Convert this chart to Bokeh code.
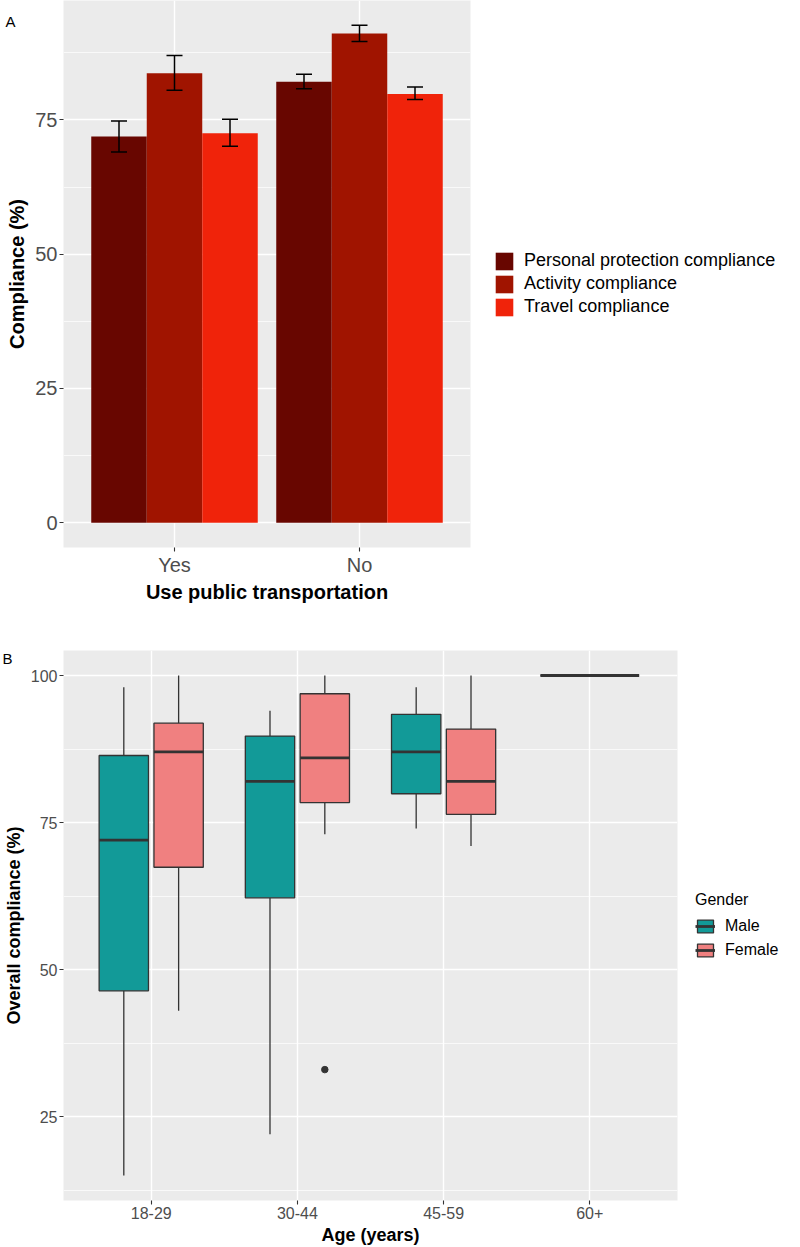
from bokeh.plotting import figure
from bokeh.layouts import column
from bokeh.models import (FactorRange, Range1d, FixedTicker, Legend, LegendItem, Whisker,
                          TeeHead, ColumnDataSource, CDSView, GroupFilter, Label)
from bokeh.transform import dodge
from bokeh.embed import file_html
from bokeh.resources import INLINE

# ---------------- Panel A data ----------------
transport = ["Yes", "No"]
measures = ["Personal protection compliance", "Activity compliance", "Travel compliance"]
personal = [71.9, 82.1]
personal_lo = [69.0, 80.8]
personal_hi = [74.8, 83.5]
activity = [83.7, 91.1]
activity_lo = [80.5, 89.6]
activity_hi = [87.0, 92.6]
travel = [72.5, 79.8]
travel_lo = [70.1, 78.8]
travel_hi = [75.1, 81.1]
bar_colors = ["#680600", "#a01400", "#f0230a"]

# ---------------- Panel B data ----------------
ages = ["18-29", "30-44", "45-59", "60+"]
genders = ["Male", "Female"]
box_age = ["18-29", "18-29", "30-44", "30-44", "45-59", "45-59", "60+"]
box_gender = ["Male", "Female", "Male", "Female", "Male", "Female", "Male"]
box_low = [15, 43, 22, 73, 74, 71, 100]
box_q1 = [46.4, 67.4, 62.2, 78.4, 79.9, 76.4, 100]
box_med = [72, 87, 82, 86, 87, 82, 100]
box_q3 = [86.4, 91.9, 89.7, 96.9, 93.4, 90.9, 100]
box_high = [98, 100, 94, 100, 98, 100, 100]
out_age = ["30-44"]
out_gender = ["Female"]
out_value = [33]
gender_colors = {"Male": "#129a98", "Female": "#f08080"}

FONT = "Liberation Sans"
TICK_COL = "#4d4d4d"
PANEL_BG = "#ebebeb"

A_FW, A_FH = 407, 547
A_BOTTOM = 72
B_FW, B_FH = 614, 550


def style_axes(p, tick_size, title_size):
    for ax in (p.xaxis[0], p.yaxis[0]):
        ax.axis_line_color = None
        ax.major_tick_line_color = "#333333"
        ax.major_tick_line_width = 1.1
        ax.major_tick_out = 4
        ax.major_tick_in = 0
        ax.minor_tick_line_color = None
        ax.major_label_text_font = FONT
        ax.major_label_text_font_size = tick_size
        ax.major_label_text_color = TICK_COL
        ax.major_label_standoff = 2
        ax.axis_label_text_font = FONT
        ax.axis_label_text_font_size = title_size
        ax.axis_label_text_font_style = "bold"
        ax.axis_label_text_color = "black"
        ax.axis_label_standoff = 4
    p.xgrid.grid_line_color = "white"
    p.xgrid.grid_line_width = 1.4
    p.ygrid.grid_line_color = "white"
    p.ygrid.grid_line_width = 1.4
    p.ygrid.minor_grid_line_color = "white"
    p.ygrid.minor_grid_line_width = 0.7


def panel_tag(letter, x, y):
    return Label(text=letter, x=x, y=y, x_units="screen", y_units="screen",
                 text_baseline="top", text_align="left", text_font=FONT,
                 text_font_size="15px", text_color="black")


# ================= Panel A =================
pA = figure(x_range=FactorRange(*transport, range_padding=0.1, range_padding_units="absolute"),
            y_range=Range1d(-4.63, 97.23),
            frame_width=A_FW, frame_height=A_FH,
            min_border_left=60, min_border_right=40, min_border_top=0, min_border_bottom=A_BOTTOM,
            output_backend="svg", toolbar_location=None,
            background_fill_color=PANEL_BG, border_fill_color="white", outline_line_color=None)

srcA = ColumnDataSource(dict(cat=transport,
                             personal=personal, personal_lo=personal_lo, personal_hi=personal_hi,
                             activity=activity, activity_lo=activity_lo, activity_hi=activity_hi,
                             travel=travel, travel_lo=travel_lo, travel_hi=travel_hi))
keys = ["personal", "activity", "travel"]
offsets = [-0.3, 0.0, 0.3]
itemsA = []
for key, off, col, lab in zip(keys, offsets, bar_colors, measures):
    r = pA.vbar(x=dodge("cat", off, range=pA.x_range), top=key, width=0.3, source=srcA,
                fill_color=col, line_color=None)
    itemsA.append(LegendItem(label=lab, renderers=[r]))
for key, off in zip(keys, offsets):
    w = Whisker(source=srcA, base=dodge("cat", off, range=pA.x_range),
                upper=key + "_hi", lower=key + "_lo", line_color="black", line_width=1.5,
                level="overlay",
                upper_head=TeeHead(size=16, line_color="black", line_width=1.5),
                lower_head=TeeHead(size=16, line_color="black", line_width=1.5))
    pA.add_layout(w)

pA.yaxis.ticker = FixedTicker(ticks=[0, 25, 50, 75], minor_ticks=[12.5, 37.5, 62.5, 87.5])
pA.xaxis.axis_label = "Use public transportation"
pA.yaxis.axis_label = "Compliance (%)"
style_axes(pA, "20px", "20px")
pA.xaxis.axis_label_standoff = 2

legA = Legend(items=itemsA, location="center_left", margin=23, padding=0, spacing=1,
              glyph_width=22, glyph_height=22, label_height=22, label_standoff=9,
              label_text_font=FONT, label_text_font_size="18px", label_text_color="black",
              title=" ", title_text_font_size="14px", title_standoff=4,
              border_line_color=None, background_fill_color=None)
pA.add_layout(legA, "right")
# tag sits in the (roomy) bottom border panel, positioned up to the frame's top-left
pA.add_layout(panel_tag("A", -58, A_FH + A_BOTTOM - 9), "below")

# ================= Panel B =================
pB = figure(x_range=FactorRange(*ages, range_padding=0.1, range_padding_units="absolute"),
            y_range=Range1d(10.75, 104.25),
            frame_width=B_FW, frame_height=B_FH,
            min_border_left=63, min_border_right=40, min_border_top=28, min_border_bottom=48,
            output_backend="svg", toolbar_location=None,
            background_fill_color=PANEL_BG, border_fill_color="white", outline_line_color=None)

# dodge positions from group sizes (ggplot position_dodge2, width 0.75, padding 0.1)
box_off, box_w = [], []
for i, a in enumerate(box_age):
    members = [j for j, b in enumerate(box_age) if b == a]
    n = len(members)
    k = members.index(i)
    slot = 0.75 / n
    box_off.append(-0.375 + slot * (k + 0.5))
    box_w.append(slot * 0.9)

srcB = ColumnDataSource(dict(
    gender=box_gender,
    xc=[(a, o) for a, o in zip(box_age, box_off)],
    xl=[(a, o - w / 2) for a, o, w in zip(box_age, box_off, box_w)],
    xr=[(a, o + w / 2) for a, o, w in zip(box_age, box_off, box_w)],
    lo=box_low, q1=box_q1, med=box_med, q3=box_q3, hi=box_high))

itemsB = []
for g in genders:
    view = CDSView(filter=GroupFilter(column_name="gender", group=g))
    pB.segment(x0="xc", y0="q3", x1="xc", y1="hi", source=srcB, view=view,
               line_color="#333333", line_width=1.3)
    pB.segment(x0="xc", y0="q1", x1="xc", y1="lo", source=srcB, view=view,
               line_color="#333333", line_width=1.3)
    rq = pB.quad(left="xl", right="xr", top="q3", bottom="q1", source=srcB, view=view,
                 fill_color=gender_colors[g], line_color="#333333", line_width=1.3)
    rm = pB.segment(x0="xl", y0="med", x1="xr", y1="med", source=srcB, view=view,
                    line_color="#333333", line_width=2.8)
    itemsB.append(LegendItem(label=g, renderers=[rq, rm]))

# outliers placed at their box's dodge position
out_x = []
for a, g in zip(out_age, out_gender):
    idx = [i for i in range(len(box_age)) if box_age[i] == a and box_gender[i] == g][0]
    out_x.append((a, box_off[idx]))
pB.scatter(x=out_x, y=out_value, size=6.5, fill_color="#333333", line_color="#333333")

pB.yaxis.ticker = FixedTicker(ticks=[25, 50, 75, 100], minor_ticks=[12.5, 37.5, 62.5, 87.5])
pB.xaxis.axis_label = "Age (years)"
pB.yaxis.axis_label = "Overall compliance (%)"
style_axes(pB, "16px", "18px")
pB.xaxis.axis_label_standoff = 3

legB = Legend(items=itemsB, location="center_left", margin=18, padding=0, spacing=6,
              glyph_width=20, glyph_height=16, label_height=16, label_standoff=10,
              label_text_font=FONT, label_text_font_size="16px", label_text_color="black",
              title="Gender", title_text_font=FONT, title_text_font_size="16px",
              title_text_font_style="normal", title_text_color="black", title_standoff=8,
              border_line_color=None, background_fill_color=None)
pB.add_layout(legB, "right")
pB.add_layout(panel_tag("B", -61, 1), "above")

layout = column(pA, pB)
open("out.html", "w").write(file_html(layout, INLINE))
